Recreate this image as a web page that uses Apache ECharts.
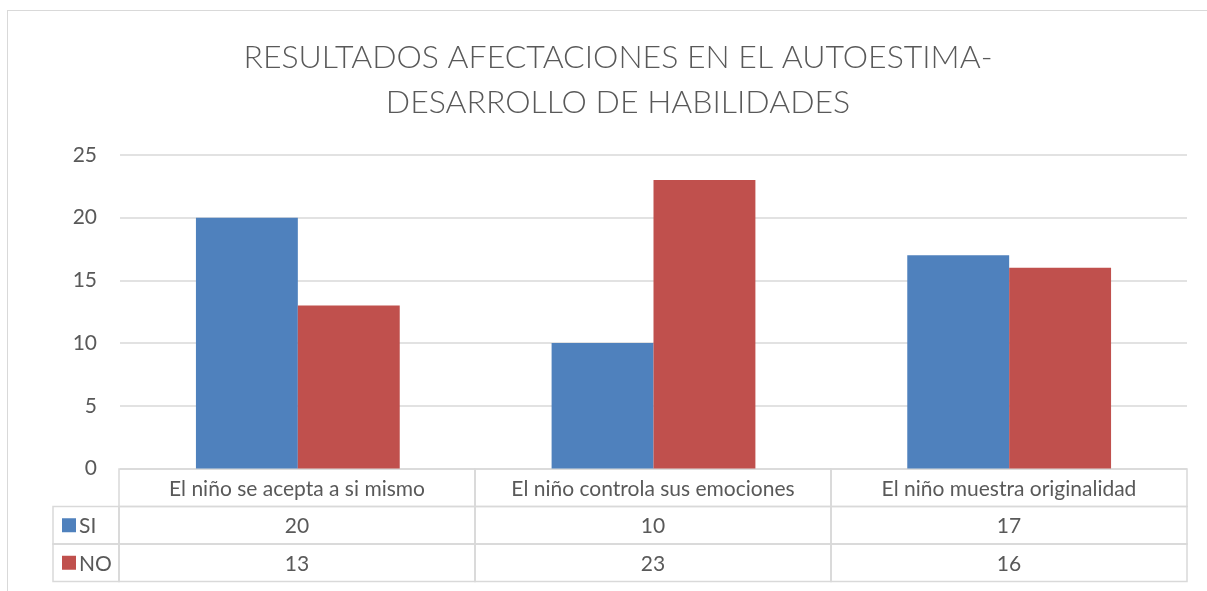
<!DOCTYPE html>
<html lang="es">
<head>
<meta charset="utf-8">
<title>Resultados afectaciones en el autoestima</title>
<script src="https://cdn.jsdelivr.net/npm/echarts@6/dist/echarts.min.js"></script>
<style>
  html, body { margin: 0; padding: 0; background: #fff; }
  #chart { width: 1207px; height: 591px; }
  /* Excel chart-area border: only the top and left edges are in frame. */
  #frame {
    position: absolute; left: 7px; top: 10px; width: 1300px; height: 700px;
    border-top: 1.5px solid #d9d9d9; border-left: 1.5px solid #d9d9d9;
    pointer-events: none;
  }
</style>
</head>
<body>
<div id="chart"></div>
<div id="frame"></div>
<script>
// --- Data. ---
const TITLE = "RESULTADOS AFECTACIONES EN EL AUTOESTIMA-\nDESARROLLO DE HABILIDADES";
const CATEGORIES = [
  "El niño se acepta a si mismo",
  "El niño controla sus emociones",
  "El niño muestra originalidad",
];
const SERIES_NAMES = ["SI", "NO"];
const SI_VALUES = [20, 10, 17];
const NO_VALUES = [13, 23, 16];
const Y_TICKS = { min: 0, max: 25, interval: 5 };

// --- Look. ---
const COLORS = ["#4F81BD", "#C0504D"];
const TEXT = "#595959";
const RULE = "#d9d9d9";
const FONT = "Lato, 'Open Sans', sans-serif";
const BODY_SIZE = 21;

// Width of the legend column in the data table, in "category column" units.
const LEGEND_COL = 66 / 356;

// Cells of the data table: header row (row 2), then one row per series.
const seriesValues = [SI_VALUES, NO_VALUES];
const cells = [];
CATEGORIES.forEach((c, i) => cells.push({ col: i, row: 2, text: c }));
SERIES_NAMES.forEach((name, s) => {
  const row = 1 - s;
  cells.push({ col: -LEGEND_COL, row, text: name, key: COLORS[s] });
  seriesValues[s].forEach((v, i) => cells.push({ col: i, row, text: String(v) }));
});

function renderCell(params, api) {
  const cell = cells[params.dataIndex];
  const x0 = cell.col;
  const x1 = cell.key ? 0 : x0 + 1;
  const tl = api.coord([x0, cell.row + 1]);
  const br = api.coord([x1, cell.row]);
  const w = br[0] - tl[0];
  const h = br[1] - tl[1];
  const children = [{
    type: "rect",
    shape: { x: tl[0], y: tl[1], width: w, height: h },
    style: { fill: "none", stroke: RULE, lineWidth: 1.5 },
  }];
  if (cell.key) {
    children.push({
      type: "rect",
      shape: { x: tl[0] + 9, y: tl[1] + h / 2 - 7, width: 14, height: 14 },
      style: { fill: cell.key },
    });
    children.push({
      type: "text",
      style: {
        x: tl[0] + 26, y: tl[1] + h / 2 + 1, text: cell.text, fill: TEXT,
        font: `${BODY_SIZE}px ${FONT}`, align: "left", verticalAlign: "middle",
      },
    });
  } else {
    children.push({
      type: "text",
      style: {
        x: tl[0] + w / 2, y: tl[1] + h / 2 + 1, text: cell.text, fill: TEXT,
        font: `${BODY_SIZE}px ${FONT}`, align: "center", verticalAlign: "middle",
      },
    });
  }
  return { type: "group", children };
}

const chart = echarts.init(document.getElementById("chart"), null, { renderer: "canvas" });

chart.setOption({
  animation: false,
  title: {
    text: TITLE,
    left: 613,
    textAlign: "center",
    top: 30,
    textStyle: {
      color: TEXT, fontFamily: FONT, fontWeight: 300, fontSize: 32, lineHeight: 45,
    },
  },
  grid: [
    { left: 120, right: 20, top: 155, bottom: 122.5 },  // bars
    { left: 53, right: 20, top: 469, bottom: 9.5 },     // data table
  ],
  xAxis: [
    {
      gridIndex: 0, type: "category", data: CATEGORIES,
      axisLine: { show: false }, axisTick: { show: false }, axisLabel: { show: false },
    },
    { gridIndex: 1, type: "value", min: -LEGEND_COL, max: CATEGORIES.length, show: false },
  ],
  yAxis: [
    {
      gridIndex: 0, type: "value", ...Y_TICKS,
      axisLine: { show: false }, axisTick: { show: false },
      axisLabel: { color: TEXT, fontFamily: FONT, fontSize: BODY_SIZE, margin: 23 },
      splitLine: { lineStyle: { color: RULE, width: 1.5 } },
    },
    { gridIndex: 1, type: "value", min: 0, max: 3, show: false },
  ],
  series: [
    ...SERIES_NAMES.map((name, s) => ({
      name, type: "bar", xAxisIndex: 0, yAxisIndex: 0,
      data: seriesValues[s],
      itemStyle: { color: COLORS[s] },
      barGap: "0%",
      barCategoryGap: "42.7%",
    })),
    {
      type: "custom", xAxisIndex: 1, yAxisIndex: 1,
      data: cells.map((c) => [c.col, c.row]),
      renderItem: renderCell,
      silent: true,
    },
  ],
});
</script>
</body>
</html>
